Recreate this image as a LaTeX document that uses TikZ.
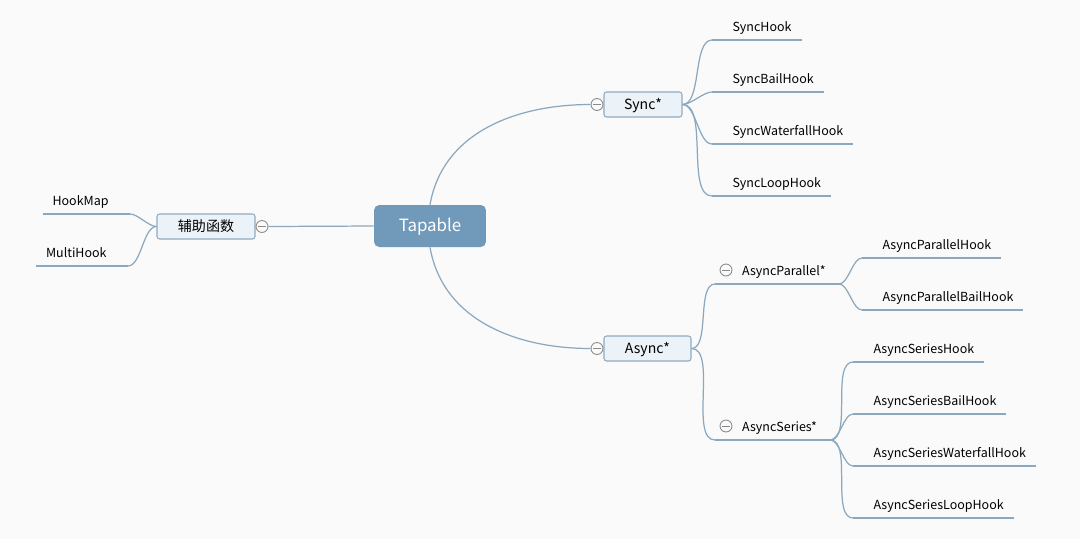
\documentclass[tikz,border=0pt]{standalone}
\usepackage{fontspec}
\setmainfont{Noto Sans CJK SC}
\definecolor{bgcol}{HTML}{FAFAFA}
\definecolor{linecol}{HTML}{8CA8BE}
\definecolor{rootcol}{HTML}{7099BA}
\definecolor{boxcol}{HTML}{EBF2F8}
\definecolor{boxline}{HTML}{90AAC0}
\definecolor{foldcol}{HTML}{8A8A8A}
\tikzset{
  link/.style={linecol, line width=0.7pt},
  rootbox/.style={rectangle, rounded corners=3pt, fill=rootcol, text=white,
    minimum width=2.24cm, minimum height=0.84cm, text height=6.4pt, text depth=0pt,
    font=\fontsize{9.6}{10}\selectfont},
  topicbox/.style={rectangle, rounded corners=1.5pt, fill=boxcol, draw=boxline,
    line width=0.6pt, minimum height=0.5cm, text height=6pt, text depth=0.5pt,
    font=\fontsize{8}{9}\selectfont},
  fold/.style={circle, draw=foldcol, fill=bgcol, line width=0.5pt, inner sep=0pt,
    minimum size=6.8pt,
    path picture={\draw[foldcol, line width=0.5pt]
      ([xshift=-2.2pt]path picture bounding box.center) --
      ([xshift=2.2pt]path picture bounding box.center);}},
  leafbase/.style={inner xsep=0pt, inner ysep=4.5pt,
    text height=5.5pt, text depth=0pt, font=\fontsize{7.1}{8}\selectfont},
  leaf/.style={leafbase, anchor=south west,
    execute at begin node={\hspace*{11.5pt}}, execute at end node={\hspace*{5.5pt}}},
  leafleft/.style={leafbase, anchor=south east,
    execute at begin node={\hspace*{5.5pt}}, execute at end node={\hspace*{12pt}}},
  subtopic/.style={leafbase, anchor=south west,
    execute at begin node={\hspace*{15.3pt}}, execute at end node={\hspace*{7.4pt}}},
  fan/.style={out=0, in=180, looseness=0.7},
}
\begin{document}
\begin{tikzpicture}[x=0.02cm, y=-0.02cm]
    \fill[bgcol] (0,0) rectangle (1080,539);

    % main topics
    \node[rootbox] (tap) at (430,226) {Tapable};
    \node[topicbox, minimum width=1.56cm] (sync) at (643,104.5) {Sync*};
    \node[topicbox, minimum width=1.74cm] (async) at (647.5,348.5) {Async*};
    \node[topicbox, minimum width=1.96cm] (aux) at (206,226.5) {辅助函数};

    % Sync* leaves
    \node[leaf] (sh) at (712,40) {SyncHook};
    \node[leaf] (sbh) at (712,92) {SyncBailHook};
    \node[leaf] (swh) at (712,144) {SyncWaterfallHook};
    \node[leaf] (slh) at (712,196) {SyncLoopHook};

    % Async* subtopics
    \node[subtopic] (par) at (715,284) {AsyncParallel*};
    \node[subtopic] (ser) at (715,440) {AsyncSeries*};
    \node[leaf] (aph) at (862,258) {AsyncParallelHook};
    \node[leaf] (apbh) at (862,310) {AsyncParallelBailHook};
    \node[leaf] (ash) at (853,362) {AsyncSeriesHook};
    \node[leaf] (asbh) at (853,414) {AsyncSeriesBailHook};
    \node[leaf] (aswh) at (853,466) {AsyncSeriesWaterfallHook};
    \node[leaf] (aslh) at (853,518) {AsyncSeriesLoopHook};

    % helper leaves
    \node[leafleft] (hm) at (130,214) {HookMap};
    \node[leafleft] (mh) at (128,266) {MultiHook};

    % underlines
    \foreach \n in {sh,sbh,swh,slh,par,ser,aph,apbh,ash,asbh,aswh,aslh,hm,mh}
        \draw[link] (\n.south west) -- (\n.south east);

    % fold markers
    \node[fold] (sf) at (597,104.5) {};
    \node[fold] (af) at (597,348.5) {};
    \node[fold] (xf) at (262,226.5) {};
    \node[fold] (pf) at (726,270) {};
    \node[fold] (qf) at (726,426) {};

    % connectors
    \begin{scope}[link]
        \draw (tap.north) to[out=80, in=180] (sf.west);
        \draw (tap.south) to[out=-80, in=180] (af.west);
        \draw (tap.west) -- (xf.east);
        \foreach \n in {sh,sbh,swh,slh}
            \draw (sync.east) to[fan] (\n.south west);
        \foreach \n in {par,ser}
            \draw (async.east) to[fan] (\n.south west);
        \foreach \n in {aph,apbh}
            \draw (par.south east) to[fan] (\n.south west);
        \foreach \n in {ash,asbh,aswh,aslh}
            \draw (ser.south east) to[fan] (\n.south west);
        \foreach \n in {hm,mh}
            \draw (aux.west) to[out=180, in=0, looseness=0.7] (\n.south east);
    \end{scope}
\end{tikzpicture}
\end{document}
